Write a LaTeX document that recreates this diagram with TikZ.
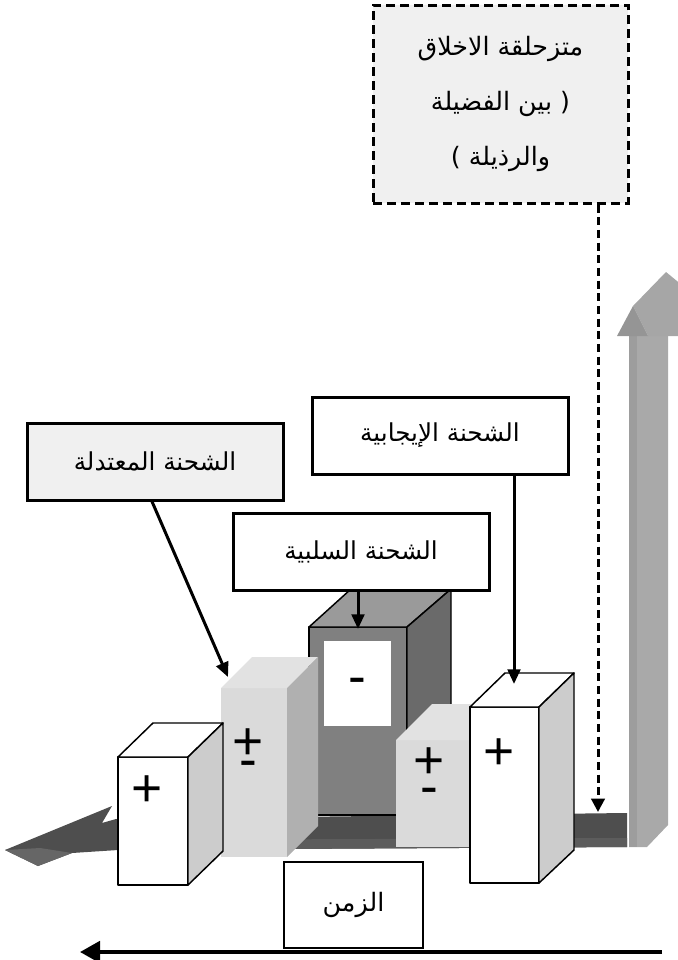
\documentclass[tikz,border=0pt]{standalone}
\usepackage{fontspec}
\usetikzlibrary{arrows.meta}
\TeXXeTstate=1
\newfontfamily\arabicfont[Script=Arabic]{DejaVu Sans}
\newfontfamily\signfont{Liberation Sans}

\definecolor{bandgray}{HTML}{4E4E4E}
\definecolor{bandlow}{HTML}{5C5C5C}
\definecolor{headgray}{HTML}{666666}
\definecolor{shaftgray}{HTML}{A9A9A9}
\definecolor{shaftedge}{HTML}{9D9D9D}
\definecolor{tipleft}{HTML}{959595}
\definecolor{tipright}{HTML}{A6A6A6}
\definecolor{dkfront}{HTML}{808080}
\definecolor{dktop}{HTML}{9A9A9A}
\definecolor{dkside}{HTML}{6A6A6A}
\definecolor{ltfront}{HTML}{DADADA}
\definecolor{lttop}{HTML}{E2E2E2}
\definecolor{ltside}{HTML}{B0B0B0}
\definecolor{whside}{HTML}{CCCCCC}
\definecolor{panel}{HTML}{F0F0F0}

\begin{document}
\begin{tikzpicture}[x=0.75pt,y=-0.75pt,
  tagbox/.style={draw, line width=2.25pt, rectangle, inner sep=0pt,
    font=\arabicfont\fontsize{18.5}{22}\selectfont},
  pointer/.style={line width=2.25pt, -{Triangle[length=11pt,width=9.5pt]}},
  cubeline/.style={draw=black, line width=1.1pt, line join=round},
  sign/.style={font=\signfont\fontsize{40}{40}\selectfont, inner sep=0pt},
  signpair/.style={align=center, inner sep=0pt,
    font=\signfont\fontsize{40}{12}\selectfont}]
\useasboundingbox (0,0) rectangle (678,960);

% vertical 3D arrow on the right
\fill[shaftgray] (629,336) -- (668,336) -- (668,825) -- (647,847) -- (629,847) -- cycle;
\fill[shaftedge] (629,336) -- (637,336) -- (637,847) -- (629,847) -- cycle;
\begin{scope}
  \clip (0,0) rectangle (678,960);
  \fill[tipright] (633,306) -- (666,272) -- (700,300) -- (700,336) -- (648,336) -- cycle;
  \fill[tipleft] (617,336) -- (633,306) -- (648,336) -- cycle;
\end{scope}

% horizontal floor band with its left arrow head
\fill[bandgray] (627,813) -- (116,819) -- (102,823) -- (112,806) -- (5,850)
  -- (38,866) -- (72,853) -- (118,850) -- (627,847) -- cycle;
\fill[bandlow] (627,838) -- (118,840) -- (118,850) -- (627,847) -- cycle;
\fill[headgray] (5,850) -- (38,866) -- (72,853) -- (40,848) -- cycle;

% dark box (negative charge)
\filldraw[cubeline, fill=dkfront] (309,627) rectangle (407,815);
\filldraw[cubeline, fill=dktop] (309,627) -- (351,589) -- (451,589) -- (407,627) -- cycle;
\filldraw[cubeline, fill=dkside] (407,627) -- (451,589) -- (451,780) -- (407,815) -- cycle;
\fill[white] (324,641) rectangle (391,726);
\node[sign] (negSign) at (357.5,686) {-};

% light box, left (neutral charge)
\fill[ltfront] (221,688) rectangle (287,857);
\fill[lttop] (221,688) -- (252,657) -- (318,657) -- (287,688) -- cycle;
\fill[ltside] (287,688) -- (318,657) -- (318,826) -- (287,857) -- cycle;
\node[signpair] (neuSignA) at (248,753) {+\\-};

% light box, right (neutral charge)
\fill[ltfront] (396,740) rectangle (474,847);
\fill[lttop] (396,740) -- (432,704) -- (508,704) -- (474,740) -- cycle;
\node[signpair] (neuSignB) at (429,776) {+\\[6pt]-};

% white box, left (positive charge)
\filldraw[cubeline, fill=white] (118,757) rectangle (188,885);
\filldraw[cubeline, fill=white] (118,757) -- (153,723) -- (223,723) -- (188,757) -- cycle;
\filldraw[cubeline, fill=whside] (188,757) -- (223,723) -- (223,851) -- (188,885) -- cycle;
\node[sign] (posSignA) at (147,791) {+};

% white box, right (positive charge)
\filldraw[cubeline, fill=white] (470,707) rectangle (539,883);
\filldraw[cubeline, fill=white] (470,707) -- (505,673) -- (574,673) -- (539,707) -- cycle;
\filldraw[cubeline, fill=whside] (539,707) -- (574,673) -- (574,850) -- (539,883) -- cycle;
\node[sign] (posSignB) at (499,754) {+};

% captions
\node[tagbox, fill=panel, minimum width=192pt, minimum height=57.75pt]
  (lblNeutral) at (155,461.5) {\beginR الشحنة المعتدلة\endR};
\node[tagbox, fill=white, minimum width=192pt, minimum height=57.75pt]
  (lblPositive) at (440,435.5) {\beginR الشحنة الإيجابية\endR};
\node[tagbox, fill=white, minimum width=192pt, minimum height=57.75pt]
  (lblNegative) at (361,551.5) {\beginR الشحنة السلبية\endR};
\node[tagbox, dashed, dash pattern=on 7pt off 3.5pt, fill=panel,
  minimum width=191.25pt, minimum height=148.5pt, align=center,
  font=\arabicfont\fontsize{19}{41}\selectfont]
  (lblSlide) at (500.5,104)
  {\beginR متزحلقة الاخلاق\endR\\\beginR بين الفضيلة\endR{} (\\) \beginR والرذيلة\endR};
\node[draw, line width=0.8pt, fill=white, rectangle, inner sep=0pt,
  minimum width=104.25pt, minimum height=64.5pt,
  font=\arabicfont\fontsize{19}{22}\selectfont]
  (lblTime) at (353.5,905) {\beginR الزمن\endR};

% pointer targets
\coordinate (tipNeutral) at (228,677);
\coordinate (tipNegative) at (358,629);
\coordinate (tipPositive) at (514,684);
\coordinate (tipSlide) at (598,812);
\coordinate (timeFrom) at (662,952);
\coordinate (timeTo) at (80,952);

\draw[pointer] ([xshift=-2.25pt]lblNeutral.south) -- (tipNeutral);
\draw[pointer] (lblNegative.south -| tipNegative) -- (tipNegative);
\draw[pointer] (lblPositive.south -| tipPositive) -- (tipPositive);
\draw[line width=2.25pt, dash pattern=on 6pt off 3.5pt,
  -{Triangle[length=10pt,width=10pt]}] (lblSlide.south -| tipSlide) -- (tipSlide);
\draw[line width=3pt, -{Triangle[length=15pt,width=16pt]}] (timeFrom) -- (timeTo);
\end{tikzpicture}
\end{document}
